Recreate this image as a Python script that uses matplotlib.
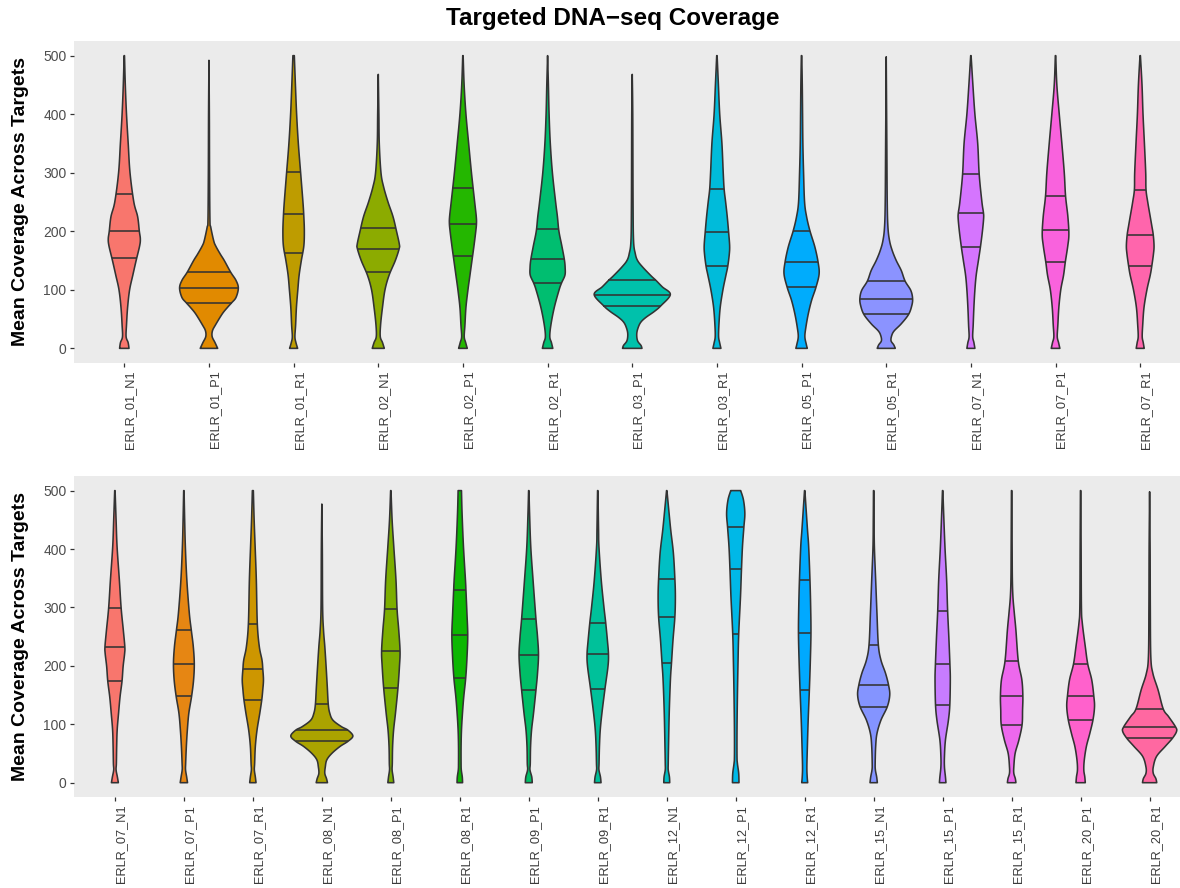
import numpy as np
import matplotlib
matplotlib.use('Agg')
import matplotlib.pyplot as plt

plt.rcParams['font.family'] = ['Liberation Sans', 'DejaVu Sans']

# ---- top panel -------------------------------------------------------------
top_names = ['ERLR_01_N1', 'ERLR_01_P1', 'ERLR_01_R1', 'ERLR_02_N1', 'ERLR_02_P1',
             'ERLR_02_R1', 'ERLR_03_P1', 'ERLR_03_R1', 'ERLR_05_P1', 'ERLR_05_R1',
             'ERLR_07_N1', 'ERLR_07_P1', 'ERLR_07_R1']
top_q1 = [154, 78, 163, 131, 157, 112, 73, 140, 104, 58, 173, 147, 140]
top_med = [200, 103, 229, 170, 213, 152, 92, 198, 147, 85, 232, 203, 194]
top_q3 = [263, 130, 302, 206, 274, 204, 116, 272, 201, 115, 297, 260, 271]
# density profile of each sample: (coverage, relative density), last pair = max
top_dens = [
    [(0, 4.7), (10, 3.8), (20, 1.8), (40, 2.2), (70, 3.3), (100, 5.3), (125, 8.5), (150, 11.8),
     (175, 15.3), (187, 16), (200, 15), (225, 13.3), (250, 9.5), (300, 5.7), (350, 3.9),
     (400, 2.2), (450, 1.0), (500, 0.2)],
    [(0, 8.7), (10, 6), (20, 3.2), (30, 3.5), (40, 6.5), (59, 13.3), (70, 18.5), (78, 22.7),
     (87, 27), (103, 29.3), (116, 27), (130, 21.7), (150, 15.3), (161, 11.3), (175, 6.7),
     (184, 4.7), (207, 1.8), (219, 1.0), (300, 0.6), (400, 0.4), (492, 0)],
    [(0, 4), (10, 2.3), (20, 1.3), (40, 2), (70, 2.8), (100, 4.2), (125, 5.5), (150, 7.7),
     (175, 10.2), (200, 10.7), (225, 10.2), (250, 9.3), (300, 7), (350, 4.7), (400, 3),
     (450, 1.8), (500, 0.7)],
    [(0, 6), (10, 4.2), (20, 2), (40, 2.3), (70, 4.2), (100, 6.7), (125, 10.8), (150, 17),
     (170, 20.8), (178, 21), (200, 18.2), (225, 14.7), (250, 9.7), (276, 5.3), (300, 2.7),
     (350, 1), (400, 0.6), (468, 0)],
    [(0, 4.3), (10, 2.7), (20, 1.3), (40, 2), (70, 3), (100, 5), (125, 7), (150, 9), (175, 11),
     (200, 12.8), (213, 13.5), (225, 13.3), (250, 11.7), (300, 8.5), (350, 5.7), (400, 3),
     (450, 1.2), (500, 0.2)],
    [(0, 5.2), (10, 3.8), (20, 2.2), (40, 3.3), (70, 6.7), (100, 11.5), (112, 14), (125, 17.3),
     (138, 17.5), (152, 16.7), (175, 14.2), (200, 11.3), (225, 9.8), (250, 8), (300, 4.8),
     (350, 2.7), (400, 1.5), (450, 0.8), (500, 0)],
    [(0, 9.7), (5, 8.7), (13, 5.3), (25, 4.5), (36, 6), (45, 8.7), (53, 13.7), (63, 22),
     (73, 28.7), (92, 38), (105, 30), (116, 23.7), (124, 18.7), (139, 10.3), (150, 5.3),
     (162, 3), (184, 1.3), (250, 0.8), (400, 0.5), (468, 0)],
    [(0, 4), (10, 2.7), (20, 1.7), (40, 2), (70, 3.3), (100, 6), (125, 9), (140, 10.8),
     (160, 12.3), (175, 12.7), (198, 11.7), (225, 10.3), (250, 8.7), (272, 7.2), (300, 6.3),
     (350, 5), (400, 2.8), (450, 1.5), (500, 0.2)],
    [(0, 5.7), (7, 4.7), (20, 3.3), (36, 4.3), (59, 6.7), (82, 10), (104, 14.3), (127, 17.5),
     (147, 16.5), (173, 13.3), (201, 8.3), (225, 5), (250, 3), (300, 2), (350, 1.3),
     (400, 1), (450, 0.7), (500, 0.2)],
    [(0, 9), (6, 7.5), (13, 4.8), (22, 5.5), (30, 8), (42, 15), (58, 22.3), (73, 25.5),
     (85, 26.3), (99, 24.5), (115, 18.8), (133, 15), (150, 10), (167, 6), (184, 3.3),
     (207, 1.7), (250, 1), (350, 0.6), (498, 0)],
    [(0, 4), (10, 3), (20, 1.8), (40, 2.3), (70, 3), (100, 4), (125, 5.3), (150, 7.5),
     (173, 9.5), (200, 11.5), (222, 12.7), (232, 12.5), (250, 11), (297, 8.3), (350, 6.8),
     (400, 4), (450, 2), (500, 0.2)],
    [(0, 4.3), (10, 3), (20, 1.7), (40, 2.3), (70, 3.3), (100, 5.2), (125, 8), (147, 9.7),
     (175, 12.2), (195, 13.3), (225, 12.3), (260, 10), (300, 8.7), (350, 6.3), (400, 3.7),
     (450, 1.3), (500, 0.2)],
    [(0, 4), (10, 3), (20, 2), (40, 2.5), (70, 3.8), (100, 6.7), (125, 10), (140, 11.5),
     (161, 13.2), (175, 13.8), (194, 13), (210, 11.5), (225, 10), (250, 7.5), (271, 5.8),
     (300, 5.5), (350, 4.2), (400, 2.8), (450, 1.8), (500, 0.2)],
]

# ---- bottom panel ----------------------------------------------------------
bot_names = ['ERLR_07_N1', 'ERLR_07_P1', 'ERLR_07_R1', 'ERLR_08_N1', 'ERLR_08_P1',
             'ERLR_08_R1', 'ERLR_09_P1', 'ERLR_09_R1', 'ERLR_12_N1', 'ERLR_12_P1',
             'ERLR_12_R1', 'ERLR_15_N1', 'ERLR_15_P1', 'ERLR_15_R1', 'ERLR_20_P1',
             'ERLR_20_R1']
bot_q1 = [174, 148, 142, 71, 162, 180, 158, 161, 205, 254, 159, 130, 133, 99, 108, 76]
bot_med = [233, 204, 195, 90, 225, 253, 219, 220, 284, 365, 257, 167, 203, 148, 148, 96]
bot_q3 = [299, 261, 272, 134, 297, 329, 281, 274, 349, 437, 347, 236, 294, 208, 203, 126]
bot_dens = [
    [(0, 3.5), (10, 2.5), (22, 1.2), (33, 1.5), (62, 1.8), (90, 2.3), (119, 3.7), (147, 5.2),
     (174, 7.2), (199, 8.3), (221, 9.8), (233, 10), (261, 8.5), (299, 6.3), (347, 4.5),
     (404, 2.2), (450, 1.2), (500, 0.2)],
    [(0, 3.7), (10, 2.8), (22, 1.7), (33, 1.8), (62, 2.5), (90, 3.5), (119, 5), (148, 7.8),
     (176, 9.8), (204, 10.5), (233, 9.5), (261, 7.5), (290, 5.5), (347, 3), (404, 1.5),
     (450, 0.8), (500, 0.2)],
    [(0, 3.2), (10, 2.5), (22, 1.5), (33, 1.8), (62, 2.5), (90, 4.2), (119, 7), (142, 9),
     (159, 10), (176, 10.7), (195, 10), (210, 9.2), (233, 6.5), (272, 4.5), (347, 3.5),
     (404, 2.3), (450, 1.3), (500, 0.5)],
    [(0, 5.7), (7, 4.7), (16, 3), (27, 3.5), (39, 5), (50, 10), (62, 18.3), (71, 26.5),
     (80, 31.3), (90, 26.3), (96, 19.7), (107, 11.2), (119, 8), (134, 6.5), (164, 5.5),
     (199, 4.3), (233, 3), (261, 1.7), (300, 0.8), (400, 0.5), (477, 0)],
    [(0, 3), (10, 2.3), (22, 1.3), (33, 1.5), (62, 1.8), (90, 2.8), (119, 4.7), (162, 7.2),
     (199, 8.7), (225, 9.3), (261, 8), (297, 6.3), (347, 5.2), (404, 3), (450, 1.3),
     (500, 0.2)],
    [(0, 2.8), (10, 2.5), (22, 1.5), (33, 1.3), (62, 1.3), (90, 1.7), (119, 2.7), (147, 4),
     (180, 6), (216, 7.3), (253, 8), (290, 7.2), (329, 6.2), (347, 5.7), (404, 3.7),
     (461, 2.3), (500, 1.7)],
    [(0, 3.5), (10, 3), (22, 1.2), (33, 1.5), (62, 1.8), (90, 2.8), (119, 4.8), (158, 7.2),
     (187, 8.8), (219, 9.8), (250, 8.8), (281, 7.2), (347, 4.3), (404, 2), (461, 0.8),
     (500, 0.2)],
    [(0, 3.3), (10, 2.7), (22, 1.2), (33, 1.3), (62, 1.7), (90, 2.5), (119, 4.2), (161, 7.3),
     (199, 10.3), (220, 10.8), (244, 9.7), (274, 8), (301, 6.2), (347, 3.5), (404, 1.2),
     (433, 0.8), (500, 0.2)],
    [(0, 3), (10, 2.7), (22, 1.5), (33, 1.5), (62, 1.8), (119, 2.5), (176, 3.7), (205, 4.8),
     (244, 6.3), (284, 8.2), (318, 8.7), (349, 8.2), (393, 6.7), (433, 4), (473, 1.7),
     (500, 0.2)],
    [(0, 3.3), (16, 3), (33, 1.7), (45, 1.3), (90, 1.3), (147, 1.7), (204, 2.3), (254, 3),
     (318, 4.8), (365, 5.8), (404, 6.8), (437, 8.2), (461, 9.2), (484, 7.8), (500, 5)],
    [(0, 3), (10, 2.5), (27, 2.2), (62, 2.7), (107, 3.5), (159, 4.7), (210, 5.7), (257, 6.3),
     (301, 6), (347, 5.3), (404, 4), (433, 2.8), (484, 0.8), (500, 0.2)],
    [(0, 3.7), (10, 3), (22, 1.7), (33, 1.5), (62, 2), (84, 3.3), (107, 7.3), (130, 13.7),
     (150, 16.2), (167, 15), (187, 12), (210, 7.3), (236, 4.7), (290, 3.3), (347, 2),
     (404, 0.7), (450, 0.4), (500, 0.2)],
    [(0, 3.3), (10, 2.8), (27, 1.8), (45, 1.8), (73, 2.8), (107, 5.8), (133, 7.2), (176, 7.7),
     (203, 7.3), (250, 6.2), (294, 5), (347, 4), (404, 2.3), (461, 1), (500, 0.2)],
    [(0, 4.3), (7, 3.7), (16, 2.2), (27, 2.2), (50, 3.5), (73, 7.3), (99, 10.5), (124, 11),
     (148, 11.3), (176, 10.3), (208, 6.7), (261, 4.3), (290, 2.7), (318, 1.3), (350, 0.7),
     (400, 0.5), (500, 0.2)],
    [(0, 4.7), (10, 4.2), (22, 3.2), (39, 3.7), (62, 5.8), (84, 9.2), (108, 12.5), (130, 14),
     (148, 13.3), (176, 11.2), (203, 7.2), (233, 4.7), (273, 1.7), (301, 0.8), (400, 0.5),
     (500, 0.2)],
    [(0, 7.2), (7, 6.3), (16, 3.7), (27, 3.7), (45, 7), (62, 15.7), (76, 23), (88, 27.2),
     (96, 26), (113, 19.2), (126, 13.8), (159, 8.5), (187, 3.3), (216, 1.2), (300, 0.7),
     (400, 0.5), (498, 0)],
]

y_ticks = [0, 100, 200, 300, 400, 500]


def hue_colors(n, c=100.0, l=65.0):
    """ggplot-style evenly spaced HCL hues."""
    hues = np.linspace(15, 375, n + 1)[:-1] % 360
    out = []
    for h in hues:
        u = c * np.cos(np.radians(h))
        v = c * np.sin(np.radians(h))
        Y = 100.0 * ((l + 16) / 116) ** 3
        up = u / (13 * l) + 0.1978398
        vp = v / (13 * l) + 0.4683363
        X = 9.0 * Y * up / (4 * vp)
        Z = -X / 3 - 5 * Y + 3 * Y / vp
        rgb = np.array([3.240479 * X - 1.537150 * Y - 0.498535 * Z,
                        -0.969256 * X + 1.875992 * Y + 0.041556 * Z,
                        0.055648 * X - 0.204043 * Y + 1.057311 * Z]) / 100.0
        rgb = np.where(rgb > 0.00304, 1.055 * np.abs(rgb) ** (1 / 2.4) - 0.055, 12.92 * rgb)
        out.append(tuple(np.clip(rgb, 0, 1)))
    return out


def smooth(pts, k=10):
    # Catmull-Rom through the profile points
    p = np.asarray(pts, float)
    p = np.vstack([p[0], p, p[-1]])
    t = np.linspace(0, 1, k, endpoint=False)[:, None]
    seg = []
    for i in range(1, len(p) - 2):
        p0, p1, p2, p3 = p[i - 1], p[i], p[i + 1], p[i + 2]
        seg.append(0.5 * (2 * p1 + (-p0 + p2) * t + (2 * p0 - 5 * p1 + 4 * p2 - p3) * t ** 2
                          + (-p0 + 3 * p1 - 3 * p2 + p3) * t ** 3))
    seg.append(p[-2][None])
    return np.vstack(seg)


def violins(ax, names, dens, q1, med, q3):
    cols = hue_colors(len(names))
    scale = 0.45 / max(d for prof in dens for _, d in prof)
    for i, prof in enumerate(dens):
        c = i + 1
        sm = smooth(prof)
        yv = np.maximum.accumulate(sm[:, 0])
        w = np.clip(sm[:, 1], 0, None) * scale
        xs = np.concatenate([c + w, (c - w)[::-1]])
        ys = np.concatenate([yv, yv[::-1]])
        ax.fill(xs, ys, facecolor=cols[i], edgecolor='#333333', lw=1.15,
                joinstyle='round', zorder=2)
        for q in (q1[i], med[i], q3[i]):
            hw = np.interp(q, yv, w)
            ax.plot([c - hw, c + hw], [q, q], color='#333333', lw=1.15,
                    solid_capstyle='butt', zorder=3)

    ax.set_facecolor('#EBEBEB')
    ax.set_xlim(0.4, len(names) + 0.6)
    ax.set_ylim(-25, 525)
    ax.set_xticks(range(1, len(names) + 1))
    ax.set_xticklabels(names, rotation=90, ha='left', va='top', fontsize=9.2,
                       color='#3A3A3A')
    ax.set_yticks(y_ticks)
    ax.set_yticklabels([str(v) for v in y_ticks], fontsize=10, color='#4D4D4D')
    ax.tick_params(axis='both', length=3, width=0.9, color='#333333')
    ax.tick_params(axis='x', pad=2.5)
    ax.tick_params(axis='y', pad=2)
    for s in ax.spines.values():
        s.set_visible(False)


W, H = 1180, 888
fig = plt.figure(figsize=(W / 100, H / 100), dpi=100)

ax1 = fig.add_axes([73.5 / W, 1 - 363 / H, 1117.5 / W, 322 / H])
violins(ax1, top_names, top_dens, top_q1, top_med, top_q3)

ax2 = fig.add_axes([73.5 / W, 1 - 797.3 / H, 1117.5 / W, 321.3 / H])
violins(ax2, bot_names, bot_dens, bot_q1, bot_med, bot_q3)

for yc in (202, 636.5):
    fig.text(21 / W, 1 - yc / H, 'Mean Coverage Across Targets', rotation=90,
             ha='center', va='center', fontsize=14, fontweight='bold')

fig.text(613 / W, 1 - 19 / H, 'Targeted DNA\u2212seq Coverage', ha='center', va='center',
         fontsize=17.5, fontweight='bold')

fig.savefig('out.png', dpi=100)
